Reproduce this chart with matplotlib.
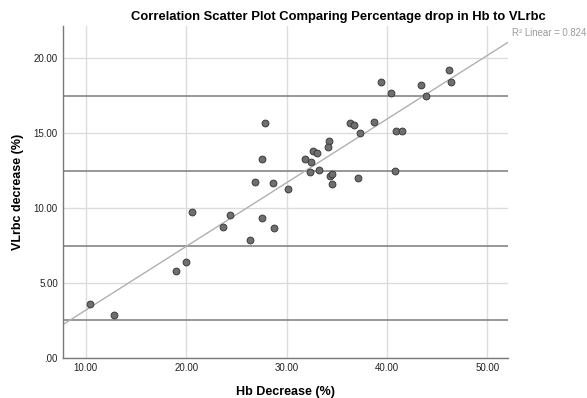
import numpy as np
import matplotlib
matplotlib.use('Agg')
import matplotlib.pyplot as plt

plt.rcParams['font.family'] = ['Liberation Sans', 'DejaVu Sans']

# Hb decrease (%) vs VLrbc decrease (%)
hb_drop = [10.4, 12.85, 19.0, 19.97, 20.57, 23.62, 24.36, 26.31, 26.9, 27.55,
           27.55, 27.85, 28.6, 28.74, 30.1, 31.85, 32.4, 32.35, 32.6, 33.0,
           33.25, 34.2, 34.16, 34.36, 34.5, 34.56, 36.3, 36.75, 37.15, 37.28,
           38.74, 39.4, 40.4, 40.84, 40.87, 41.5, 43.4, 43.86, 46.15, 46.4]
vlrbc_drop = [3.57, 2.88, 5.82, 6.38, 9.76, 8.74, 9.52, 7.89, 11.74, 9.34,
              13.28, 15.71, 11.66, 8.69, 11.28, 13.26, 13.1, 12.43, 13.84, 13.66,
              12.57, 14.46, 14.1, 12.15, 12.28, 11.6, 15.71, 15.58, 12.01, 15.04,
              15.76, 18.43, 17.71, 12.5, 15.17, 15.17, 18.23, 17.51, 19.23, 18.45]
ref_lines = [2.5, 7.5, 12.5, 17.5]
x_ticks = [10, 20, 30, 40, 50]
y_ticks = [0, 5, 10, 15, 20]
r2_label = 'R\u00b2 Linear = 0.824'

x = np.array(hb_drop)
y = np.array(vlrbc_drop)

fig = plt.figure(figsize=(5.87, 3.98), dpi=100)
ax = fig.add_axes([0.108, 0.101, 0.758, 0.834])

xlim = (7.76, 52.1)
ylim = (0, 22.17)
ax.set_xlim(xlim)
ax.set_ylim(ylim)

ax.set_xticks(x_ticks)
ax.set_yticks(y_ticks)
ax.set_xticklabels(['%.2f' % v for v in x_ticks])
ax.set_yticklabels([('%.2f' % v).lstrip('0') if v == 0 else '%.2f' % v for v in y_ticks])
ax.grid(True, color='#dcdcdc', linewidth=1.0, zorder=0)
ax.set_axisbelow(True)

for r in ref_lines:
    ax.axhline(r, color='#858585', linewidth=1.2, zorder=1)

# linear fit
coef = np.polyfit(x, y, 1)
xx = np.array(xlim)
ax.plot(xx, np.polyval(coef, xx), color='#b0b0b0', linewidth=1.0, zorder=2)

ax.scatter(x, y, s=24, facecolor='#6f6f6f', edgecolor='#3c3c3c',
           linewidth=0.7, zorder=3)

for s in ['top', 'right']:
    ax.spines[s].set_visible(False)
for s in ['left', 'bottom']:
    ax.spines[s].set_color('#7a7a7a')
    ax.spines[s].set_linewidth(1.0)
ax.tick_params(length=0, labelsize=7, labelcolor='#222222', pad=4)

ax.set_xlabel('Hb Decrease (%)', fontsize=9, fontweight='bold', labelpad=9)
ax.set_ylabel('VLrbc decrease (%)', fontsize=9, fontweight='bold', labelpad=7)

fig.text(0.576, 0.957, 'Correlation Scatter Plot Comparing Percentage drop in Hb to VLrbc',
         ha='center', va='center', fontsize=9.4, fontweight='bold')
fig.text(0.873, 0.917, r2_label, ha='left', va='center', fontsize=6.9, color='#9a9a9a')

fig.savefig('out.png', dpi=100)
